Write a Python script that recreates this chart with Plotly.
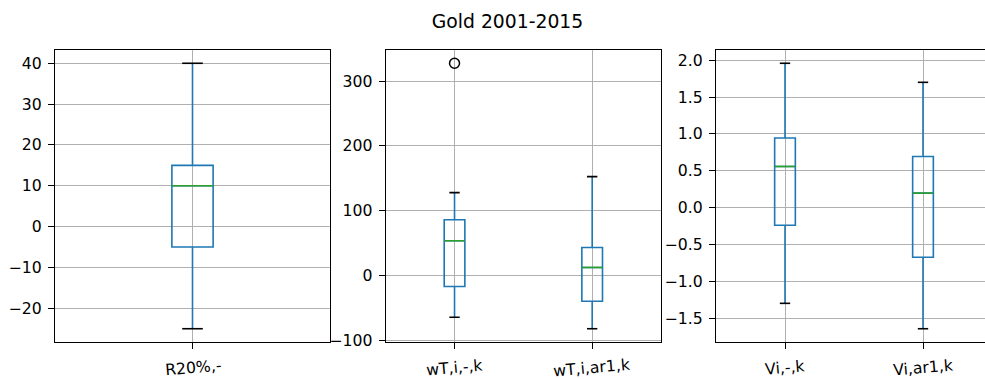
import plotly.graph_objects as go

# Box statistics per panel: [q1, median, q3, lower whisker, upper whisker]
r20_labels = ["R20%,-"]
r20_q1 = [-5.0]
r20_median = [10.0]
r20_q3 = [15.0]
r20_low = [-25.0]
r20_high = [40.0]

wt_labels = ["wT,i,-,k", "wT,i,ar1,k"]
wt_q1 = [-17.0, -39.7]
wt_median = [53.6, 12.4]
wt_q3 = [86.0, 43.3]
wt_low = [-64.4, -82.1]
wt_high = [127.8, 152.6]
wt_outliers = [[327.4], []]

v_labels = ["Vi,-,k", "Vi,ar1,k"]
v_q1 = [-0.236, -0.670]
v_median = [0.560, 0.199]
v_q3 = [0.945, 0.696]
v_low = [-1.294, -1.638]
v_high = [1.958, 1.700]

title_text = "Gold 2001-2015"

W, H = 985, 379
BLUE = "#1f77b4"
GREEN = "#2ca02c"
GRID = "#b0b0b0"
FONT = "DejaVu Sans"
BOX_W = 0.15
LW = 1.6

fig = go.Figure()


def add_panel(idx, labels, q1, med, q3, lo, hi, outliers=None):
    xa = "x" if idx == 1 else f"x{idx}"
    ya = "y" if idx == 1 else f"y{idx}"
    pos = list(range(1, len(labels) + 1))
    fig.add_trace(go.Box(
        x=pos, q1=q1, median=med, q3=q3, lowerfence=lo, upperfence=hi,
        width=BOX_W, whiskerwidth=0, boxpoints=False,
        line=dict(color=BLUE, width=LW), fillcolor="rgba(0,0,0,0)",
        xaxis=xa, yaxis=ya, showlegend=False, hoverinfo="skip",
    ))
    for p, m, a, b in zip(pos, med, lo, hi):
        # median line
        fig.add_trace(go.Scatter(
            x=[p - BOX_W / 2, p + BOX_W / 2], y=[m, m], mode="lines",
            line=dict(color=GREEN, width=LW), xaxis=xa, yaxis=ya,
            showlegend=False, hoverinfo="skip"))
        # whisker caps
        for v in (a, b):
            fig.add_trace(go.Scatter(
                x=[p - BOX_W / 4, p + BOX_W / 4], y=[v, v], mode="lines",
                line=dict(color="black", width=LW), xaxis=xa, yaxis=ya,
                showlegend=False, hoverinfo="skip"))
    if outliers:
        for p, vals in zip(pos, outliers):
            if vals:
                fig.add_trace(go.Scatter(
                    x=[p] * len(vals), y=vals, mode="markers",
                    marker=dict(symbol="circle-open", size=10,
                                color="black", line=dict(width=1.5)),
                    xaxis=xa, yaxis=ya, showlegend=False, hoverinfo="skip"))
    # slightly rotated category labels, centred under each tick
    for p, lab in zip(pos, labels):
        fig.add_annotation(
            x=p, xref=xa, y=(H - 367) / H, yref="paper",
            text=lab, showarrow=False, textangle=-5,
            xanchor="center", yanchor="middle",
            font=dict(family=FONT, size=15.7, color="black"))


add_panel(1, r20_labels, r20_q1, r20_median, r20_q3, r20_low, r20_high)
add_panel(2, wt_labels, wt_q1, wt_median, wt_q3, wt_low, wt_high, wt_outliers)
add_panel(3, v_labels, v_q1, v_median, v_q3, v_low, v_high)


def yrange(lo, hi):
    span = hi - lo
    return [lo - 0.05 * span, hi + 0.05 * span]


ydom = [(H - 342) / H, (H - 50) / H]
xdoms = [[55 / W, 330 / W], [385.7 / W, 661 / W], [716 / W, 1.0]]
xranges = [[0.5, 1.5], [0.5, 2.5], [0.5, 0.5 + (W - 716) / 138.0]]
yranges = [
    yrange(min(r20_low), max(r20_high)),
    yrange(min(wt_low), max(max(wt_high), max(max(o) for o in wt_outliers if o))),
    yrange(min(v_low), max(v_high)),
]
ytick_sets = [
    dict(dtick=10, tickformat="d"),
    dict(dtick=100, tickformat="d"),
    dict(dtick=0.5, tickformat=".1f"),
]
label_sets = [r20_labels, wt_labels, v_labels]

common_tick = dict(
    ticks="outside", ticklen=6, tickwidth=1.3, tickcolor="black",
    showgrid=True, gridcolor=GRID, gridwidth=1.3,
    linecolor="black", linewidth=1.3, zeroline=False, automargin=False,
    tickfont=dict(family=FONT, size=15.7, color="black"),
)

layout = dict(
    width=W, height=H, margin=dict(l=0, r=0, t=0, b=0, autoexpand=False),
    plot_bgcolor="white", paper_bgcolor="white",
    title=dict(text=title_text, x=507.5 / W, xanchor="center",
               y=1 - 21 / H, yanchor="middle",
               font=dict(family=FONT, size=18.8, color="black")),
)
for i in range(3):
    sfx = "" if i == 0 else str(i + 1)
    labels = label_sets[i]
    layout["xaxis" + sfx] = dict(
        domain=xdoms[i], range=xranges[i], anchor="y" + sfx,
        tickvals=list(range(1, len(labels) + 1)), ticktext=labels,
        showticklabels=False,
        showline=True, mirror=True, **common_tick)
    layout["yaxis" + sfx] = dict(
        domain=ydom, range=yranges[i], anchor="x" + sfx,
        ticklabelstandoff=3,
        showline=True, mirror=(i < 2), **ytick_sets[i], **common_tick)

fig.update_layout(**layout)
fig.write_html("out.html")
